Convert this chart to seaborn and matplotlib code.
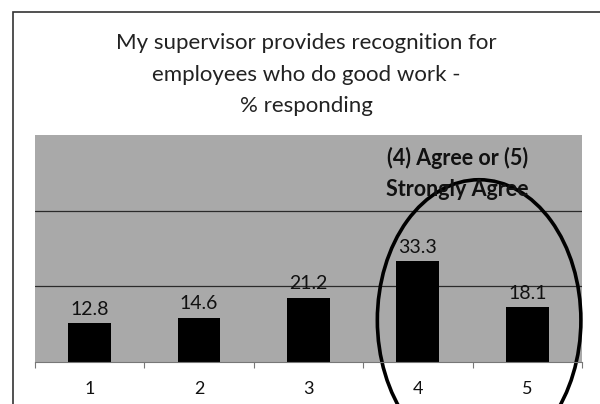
import matplotlib
matplotlib.use('Agg')
import matplotlib.pyplot as plt
from matplotlib.patches import Ellipse, Rectangle
import seaborn as sns
import pandas as pd

# ── Data ───────────────────────────────────────────────────────────
categories = ['1', '2', '3', '4', '5']
percent = [12.8, 14.6, 21.2, 33.3, 18.1]
title = 'My supervisor provides recognition for\nemployees who do good work -\n% responding'
callout = '(4) Agree or (5)\nStrongly Agree'

BG = '#a9a9a9'

sns.set_style('white')
plt.rcParams['font.family'] = ['Lato', 'DejaVu Sans']

df = pd.DataFrame({'answer': categories, 'pct': percent})

fig = plt.figure(figsize=(6, 4.04), dpi=100)
ax = fig.add_axes([0.058, 0.104, 0.912, 0.562])

sns.barplot(data=df, x='answer', y='pct', color='black', width=0.39,
            saturation=1, edgecolor='black', linewidth=0, ax=ax)

ax.set_facecolor(BG)
ax.set_xlim(-0.5, 4.5)
ax.set_ylim(0, 75)
ax.set_yticks([25, 50])
ax.yaxis.grid(True, color='#2a2a2a', linewidth=0.9)
ax.set_axisbelow(True)
ax.tick_params(axis='y', left=False, labelleft=False)
ax.tick_params(axis='x', bottom=False, labelsize=13, pad=10, colors='#111111')
ax.set_xlabel('')
ax.set_ylabel('')
for s in ['top', 'left', 'right']:
    ax.spines[s].set_visible(False)
ax.spines['bottom'].set_color('#777777')
ax.spines['bottom'].set_linewidth(0.8)

# tick marks between categories, Excel style
ax.set_xticks([i + 0.5 for i in range(-1, len(categories))], minor=True)
ax.tick_params(axis='x', which='minor', bottom=True, length=4, width=0.8,
               color='#777777', direction='out')

ax.bar_label(ax.containers[0], fmt='%.1f', padding=4, fontsize=14,
             color='#111111')

# hand-drawn callout
ax.text(3.36, 62.3, callout, ha='center', va='center', fontsize=15.5,
        fontweight='bold', color='#111111', linespacing=1.55)
ax.add_patch(Ellipse((3.56, 13.8), 1.86, 92.8, fill=False,
                     edgecolor='black', linewidth=2.6, clip_on=False))

fig.text(0.51, 0.815, title, ha='center', va='center', fontsize=16,
         color='#222222', linespacing=1.72)

# chart border
fig.patches.append(Rectangle((0.0217, -0.1), 1.2, 1.07, transform=fig.transFigure,
                             fill=False, edgecolor='#333333', linewidth=1.2))

plt.savefig('out.png', dpi=100)
plt.close()
